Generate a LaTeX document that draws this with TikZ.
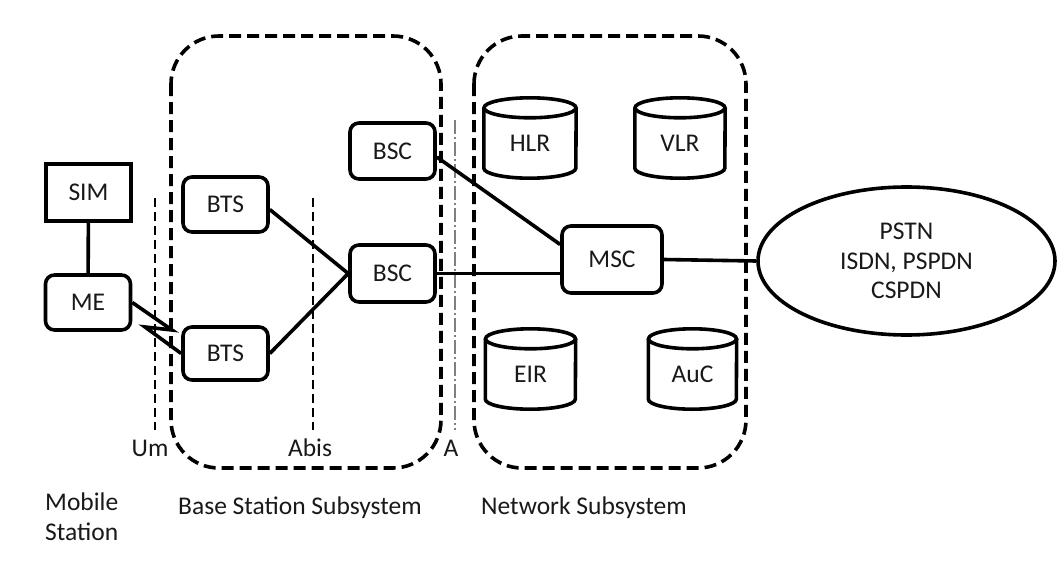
\documentclass[tikz,border=0pt]{standalone}
\usepackage{fontspec}
\setmainfont{Carlito}
\usetikzlibrary{calc,shapes.geometric}

% a vertical data store drawn around a named node
\newcommand{\datastore}[4]{%
  \node[store, minimum width=#4] (#1) at (#2) {};
  \draw[link] ([yshift=-10pt]#1.north west) -- ([yshift=10pt]#1.south west)
    arc[start angle=180, end angle=360, x radius=#4/2, y radius=10pt]
    -- ([yshift=-10pt]#1.north east);
  \draw[link] ([yshift=-10pt]#1.north) ellipse[x radius=#4/2, y radius=10pt];
  \node at ([yshift=-5pt]#1.center) {#3};
}

\begin{document}
\begin{tikzpicture}[x=1pt, y=-1pt,
  every node/.style={font=\fontsize{25.5}{29.5}\selectfont, text=black!90},
  unit/.style={draw, line width=3.6pt, rounded corners=9pt, minimum width=85pt,
    minimum height=56pt, inner sep=0pt},
  plainunit/.style={unit, rounded corners=0pt},
  link/.style={line width=3.6pt},
  group/.style={line width=3.6pt, dash pattern=on 12pt off 6pt, rounded corners=48pt},
  iface/.style={line width=1.2pt, dash pattern=on 9pt off 5pt},
  ifacegray/.style={line width=1.2pt, gray, dash pattern=on 14pt off 3pt on 2pt off 3pt},
  store/.style={minimum height=80pt, inner sep=0pt},
  caption/.style={anchor=west, inner sep=0pt}]
\useasboundingbox[fill=white] (0,0) rectangle (1061,562);

% subsystem groups
\draw[group] (171,36) rectangle (441,468);
\draw[group] (474,36) rectangle (746,468);

% interface lines
\coordinate (umtop) at (155,198);  \coordinate (umbot) at (155,430);
\coordinate (abtop) at (313,198);  \coordinate (abbot) at (313,430);
\coordinate (atop)  at (455,120);  \coordinate (abot)  at (455,430);
\draw[iface] (umtop) -- (umbot);
\draw[iface] (abtop) -- (abbot);
\draw[ifacegray] (atop) -- (abot);

% mobile station
\node[plainunit, minimum height=57pt] (sim) at (88.5,192.5) {SIM};
\node[unit, minimum height=55pt] (me) at (88,302.5) {ME};

% base station subsystem
\node[unit, minimum height=55pt] (bts1) at (225.5,204.5) {BTS};
\node[unit, minimum height=53pt] (bts2) at (225.5,353.5) {BTS};
\node[unit] (bsc1) at (392.5,151) {BSC};
\node[unit, minimum height=57pt] (bsc2) at (392.5,273.5) {BSC};

% network subsystem
\node[unit, minimum width=100pt, minimum height=67pt] (msc) at (612,259.5) {MSC};
\datastore{hlr}{530,138}{HLR}{92pt}
\datastore{vlr}{680,138}{VLR}{90pt}
\datastore{eir}{530.5,369}{EIR}{90pt}
\datastore{auc}{692.5,369}{AuC}{88pt}

% external networks
\node[ellipse, draw, line width=3.6pt, minimum width=297pt, minimum height=148pt,
  inner sep=0pt, align=center] (pstn) at (906.5,261) {PSTN\\ISDN, PSPDN\\CSPDN};

% connections
\draw[link] (sim) -- (me);
\coordinate (jag1) at (172,330);
\coordinate (jag2) at (145,327);
\draw[link] (me.east) -- (jag1) -- (jag2) -- (bts2.west);
\draw[link] ([yshift=-5pt]bts1.east) -- (bsc2.west);
\draw[link] (bts2.east) -- (bsc2.west);
\draw[link] ([yshift=-6pt]bsc1.east) -- ($(msc.west)+(0,-15)$);
\draw[link] (bsc2.east) -- (bsc2.east -| msc.west);
\draw[link] (msc.east) -- (pstn.west);

% interface names
\node (um) at (150,448) {Um};
\node (abis) at (310,448) {Abis};
\node (a) at (451,448) {A};

% subsystem names
\node[caption, anchor=north west, align=left] (ms) at (45,493) {Mobile\\Station};
\node[caption] (bss) at (178,508) {Base Station Subsystem};
\node[caption] (nss) at (481,508) {Network Subsystem};
\end{tikzpicture}
\end{document}
